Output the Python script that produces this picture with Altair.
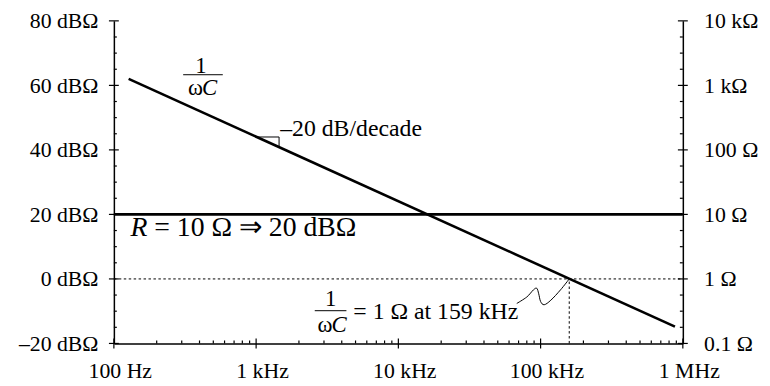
import altair as alt
import pandas as pd

# ---------------- axis definitions ----------------
freq_ticks = [100, 1000, 10000, 100000, 1000000]
freq_labels = ["100 Hz", "1 kHz", "10 kHz", "100 kHz", "1 MHz"]
freq_minor = [m * 10 ** k for k in range(2, 6) for m in range(2, 10)]
db_ticks = [-20, 0, 20, 40, 60, 80]
db_labels_left = ["–20 dBΩ", "0 dBΩ", "20 dBΩ", "40 dBΩ", "60 dBΩ", "80 dBΩ"]
ohm_labels_right = ["0.1 Ω", "1 Ω", "10 Ω", "100 Ω", "1 kΩ", "10 kΩ"]
db_minor = [-15, -10, -5, 5, 10, 15, 25, 30, 35, 45, 50, 55, 65, 70, 75]

# ---------------- series ----------------
xc_freq = [127, 880000]
xc_db = [62.0, -14.8]
r_freq = [100, 1000000]
r_db = [20, 20]
ref_freq = [100, 1000000]
ref_db = [0, 0]
corner_freq = [159000, 159000]
corner_db = [-20, 0]
slope_freq = [1000, 1450, 1450]
slope_db = [44.0, 44.0, 40.8]
squig_freq = [68000, 80000, 89000, 94000, 97000, 100000, 106000, 118000, 138000, 159000]
squig_db = [-7.6, -5.6, -3.4, -2.9, -4.6, -7.0, -8.0, -6.6, -3.4, 0.0]

# annotation anchors (data units)
frac1_freq = 409
frac1_db = [66.0, 63.3, 59.3]
frac1_bar = [307, 583]
frac2_freq = 3340
frac2_db = [-6.3, -9.85, -14.2]
frac2_bar = [2584, 4313]
eq2_freq = 4826
eq2_db = -10.2
slope_text_freq = 1477
slope_text_db = 46.5
r_text_freq = 131
r_text_db = 15.7

W, H = 575, 326
FONT = "Liberation Serif"

xscale = alt.Scale(type="log", domain=[100, 1000000], nice=False)
yscale = alt.Scale(domain=[-20, 80], nice=False, zero=False)


def chain(values, labels):
    expr = "''"
    for v, l in reversed(list(zip(values, labels))):
        expr = f"datum.value == {v} ? '{l}' : " + expr
    return expr


def X(field="f", axis=None):
    return alt.X(field, type="quantitative", scale=xscale, axis=axis)


def Y(field="d", axis=None):
    return alt.Y(field, type="quantitative", scale=yscale, axis=axis)


def line_df(fs, ds):
    return pd.DataFrame({"f": fs, "d": ds, "i": list(range(len(fs)))})


x_axis = alt.Axis(values=freq_ticks, labelExpr=chain(freq_ticks, freq_labels),
                  ticks=False, labelPadding=17, labelOffset=6, domain=True, title=None,
                  grid=False, labelFlush=False, labelOverlap=False)
y_axis_left = alt.Axis(values=db_ticks, labelExpr=chain(db_ticks, db_labels_left),
                       ticks=False, labelPadding=16, domain=True, title=None, grid=False,
                       orient="left", labelFlush=False, labelOverlap=False)
y_axis_right = alt.Axis(values=db_ticks, labelExpr=chain(db_ticks, ohm_labels_right),
                        ticks=False, labelPadding=21, domain=True, title=None, grid=False,
                        orient="right", labelFlush=False, labelOverlap=False)

# main lines
xc_line = alt.Chart(line_df(xc_freq, xc_db)).mark_line(color="black", strokeWidth=2.6).encode(
    x=X(axis=x_axis), y=Y(axis=y_axis_left))
r_line = alt.Chart(line_df(r_freq, r_db)).mark_line(color="black", strokeWidth=2.6).encode(
    x=X(), y=Y(axis=y_axis_right))
ref_line = alt.Chart(line_df(ref_freq, ref_db)).mark_line(
    color="black", strokeWidth=1, strokeDash=[2.5, 2.5]).encode(x=X(), y=Y())
corner_line = alt.Chart(line_df(corner_freq, corner_db)).mark_line(
    color="black", strokeWidth=1, strokeDash=[2.5, 2.5]).encode(x=X(), y=Y(), order="i:Q")
slope_line = alt.Chart(line_df(slope_freq, slope_db)).mark_line(
    color="black", strokeWidth=1).encode(x=X(), y=Y(), order="i:Q")
squig_line = alt.Chart(line_df(squig_freq, squig_db)).mark_line(
    color="black", strokeWidth=1, interpolate="cardinal").encode(x=X(), y=Y(), order="i:Q")

# ticks
tf_major = pd.DataFrame({"f": freq_ticks})
tf_minor = pd.DataFrame({"f": freq_minor})
td_major = pd.DataFrame({"d": db_ticks})
td_minor = pd.DataFrame({"d": db_minor})
tick_style = dict(color="black", strokeWidth=1.2)
ticks = [
    alt.Chart(tf_major).mark_rule(**tick_style).encode(x=X(), y=alt.value(H - 5), y2=alt.value(H + 5)),
    alt.Chart(tf_minor).mark_rule(**tick_style).encode(x=X(), y=alt.value(H - 3), y2=alt.value(H)),
    alt.Chart(td_major).mark_rule(**tick_style).encode(y=Y(), x=alt.value(-5), x2=alt.value(5)),
    alt.Chart(td_minor).mark_rule(**tick_style).encode(y=Y(), x=alt.value(0), x2=alt.value(3)),
    alt.Chart(td_major).mark_rule(**tick_style).encode(y=Y(), x=alt.value(W - 5), x2=alt.value(W + 5)),
    alt.Chart(td_minor).mark_rule(**tick_style).encode(y=Y(), x=alt.value(W - 3), x2=alt.value(W)),
]


def text(f, d, s, size=24, align="left", style="normal", dx=0):
    return alt.Chart(pd.DataFrame({"f": [f], "d": [d], "t": [s]})).mark_text(
        font=FONT, fontSize=size, align=align, baseline="middle", fontStyle=style,
        color="black", dx=dx).encode(x=X(), y=Y(), text="t:N")


def bar(f0, f1, d):
    return alt.Chart(pd.DataFrame({"f": [f0], "f2": [f1], "d": [d]})).mark_rule(
        color="black", strokeWidth=1).encode(x=X(), x2="f2:Q", y=Y())


annotations = [
    # top 1/ωC
    text(frac1_freq, frac1_db[0], "1", align="center", size=23),
    bar(frac1_bar[0], frac1_bar[1], frac1_db[1]),
    text(frac1_freq, frac1_db[2], "ω", align="right", dx=2, size=23),
    text(frac1_freq, frac1_db[2], "C", align="left", dx=1, style="italic", size=23),
    # slope text
    text(slope_text_freq, slope_text_db, "–20 dB/decade"),
    # R label
    text(r_text_freq, r_text_db, "R", size=28, style="italic"),
    text(r_text_freq, r_text_db, "= 10 Ω ⇒ 20 dBΩ", size=28, dx=24),
    # bottom 1/ωC = 1 Ω at 159 kHz
    text(frac2_freq, frac2_db[0], "1", align="center", size=23),
    bar(frac2_bar[0], frac2_bar[1], frac2_db[1]),
    text(frac2_freq, frac2_db[2], "ω", align="right", dx=2, size=23),
    text(frac2_freq, frac2_db[2], "C", align="left", dx=1, style="italic", size=23),
    text(eq2_freq, eq2_db, "= 1 Ω at 159 kHz"),
]

chart = alt.layer(
    xc_line, r_line, ref_line, corner_line, slope_line, squig_line, *ticks, *annotations
).resolve_axis(x="independent", y="independent").properties(
    width=W, height=H,
    background="white",
    autosize=alt.AutoSizeParams(type="none"),
    padding={"left": 107, "top": 11, "right": 80, "bottom": 40},
).configure_view(stroke=None).configure_axis(
    labelFont=FONT, labelFontSize=22, labelColor="black",
    domainColor="black", domainWidth=1.5, grid=False,
)

chart.save("out.html", embed_options={"renderer": "svg", "actions": False})
